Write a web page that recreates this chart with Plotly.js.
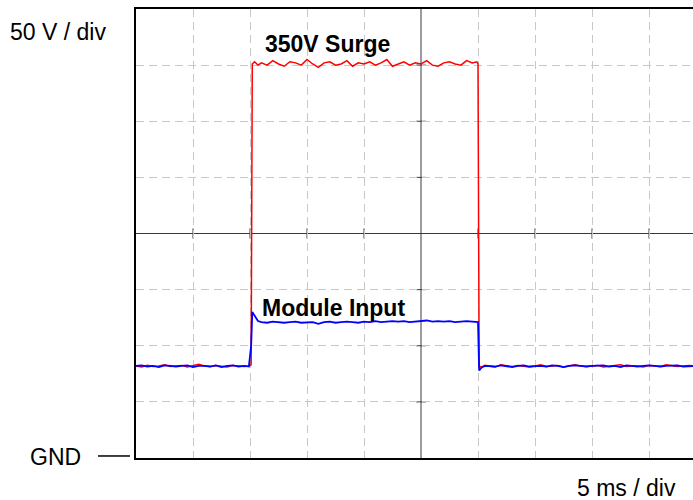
<!DOCTYPE html>
<html>
<head>
<meta charset="utf-8">
<script src="https://cdn.plot.ly/plotly-3.0.1.min.js"></script>
<style>
html,body{margin:0;padding:0;background:#fff;overflow:hidden;}
#chart{width:693px;height:500px;}
</style>
</head>
<body>
<div id="chart"></div>
<script>
// Time in ms
const timeMs = [0,0.5,1,1.5,2,2.5,3,3.5,4,4.5,5,5.5,6,6.5,7,7.5,8,8.5,9,9.5,
  9.9,10.1,10.2,10.4,10.7,
  11,11.5,12,12.5,13,13.5,14,14.5,15,15.5,16,16.5,17,17.5,18,18.5,19,19.5,20,20.5,21,21.5,22,22.5,23,23.5,24,24.5,25,25.5,26,26.5,27,27.5,28,28.5,29,29.5,
  29.9,30.0,
  30.1,30.3,30.6,
  31,31.5,32,32.5,33,33.5,34,34.5,35,35.5,36,36.5,37,37.5,38,38.5,39,39.5,40,40.5,41,41.5,42,42.5,43,43.5,44,44.5,45,45.5,46,46.5,47,47.5,48,48.5,49];

// 350V surge (V)
const surgeV = [82,81,82.5,81.5,82,83,81.5,82,82.5,81,82,83.5,82,81.5,82.5,82,81,82.5,82,81.5,
  82,83,351,353,350,
  352,350,354,351,349,353,352,350,355,351,348,352,353,350,351,354,349,352,351,353,350,352,355,349,351,353,350,352,351,354,350,349,352,353,351,350,354,352,
  353,351,
  82,81,82.5,
  82,81,83,82,81.5,82.5,82,81,82,83,81.5,82,82.5,81,82,83,82,81.5,82,82.5,81,82,82.5,83,81.5,82,82,81,82.5,82,81.5,83,82,81.5,82,82.5,82];

// Module input (V)
const moduleV = [82,82.5,81.5,82,81,82.5,82,81.5,82,82.5,81,82,82,81.5,82.5,81,82,82.5,81.5,82,
  81.5,100,130,127,122,
  121,120.5,121.5,121,120.5,121,121.5,120.5,121,121,119.5,121,121.5,120.5,121,121.5,121,120.5,121.5,121,122,121,121.5,122,121.5,122,121,121.5,122,122.5,121.5,122,121.5,122,121,121.5,122,121.5,
  121.5,121,
  78,80.5,82,
  82,81.5,82.5,82,81,82,82.5,81.5,82,82,81.5,82.5,82,81,82,82.5,82,81.5,82,82,82.5,81.5,82,81,82.5,82,81.5,82,82.5,82,81.5,82,82,82.5,81.5,82,82];

// Dashed graticule positions (centre lines are solid, drawn separately)
const xGrid = [5,10,15,20,30,35,40,45];
const yGrid = [50,100,150,250,300,350];
const xCentre = 25;
const yCentre = 200;

const FONT = "Liberation Sans, Arial, Helvetica, sans-serif";

const traces = [
  {x: timeMs, y: surgeV, type: 'scatter', mode: 'lines', line: {color: '#ff0000', width: 1.5}, name: '350V Surge'},
  {x: timeMs, y: moduleV, type: 'scatter', mode: 'lines', line: {color: '#0000ff', width: 1.8}, name: 'Module Input'}
];

const shapes = [
  {type: 'line', xref: 'x', yref: 'paper', x0: xCentre, x1: xCentre, y0: 0, y1: 1, line: {color: '#3a3a3a', width: 1}, layer: 'below'},
  {type: 'line', xref: 'paper', yref: 'y', x0: 0, x1: 1, y0: yCentre, y1: yCentre, line: {color: '#3a3a3a', width: 1}, layer: 'below'},
  {type: 'line', xref: 'paper', yref: 'paper', x0: -0.0682, x1: -0.0108, y0: 0.0045, y1: 0.0045, line: {color: '#000', width: 1.5}}
];
yGrid.forEach(v => shapes.push({type: 'line', xref: 'x', yref: 'y', x0: xCentre - 0.44, x1: xCentre + 0.44, y0: v, y1: v, line: {color: '#3a3a3a', width: 1}, layer: 'below'}));
xGrid.forEach(v => shapes.push({type: 'line', xref: 'x', yref: 'y', x0: v, x1: v, y0: yCentre - 4.5, y1: yCentre + 4.5, line: {color: '#3a3a3a', width: 1}, layer: 'below'}));

const layout = {
  width: 693, height: 500,
  margin: {l: 136, r: 0, t: 9, b: 42, pad: 0},
  paper_bgcolor: '#fff', plot_bgcolor: '#fff',
  showlegend: false,
  font: {family: FONT, color: '#000'},
  xaxis: {range: [0, 48.86], tickmode: 'array', tickvals: xGrid, showgrid: true, gridcolor: '#c8c8c8', griddash: '8px,5px', gridwidth: 1,
    zeroline: false, showticklabels: false, ticks: '', showline: true, linecolor: '#000', linewidth: 2, mirror: true, fixedrange: true},
  yaxis: {range: [0, 400], tickmode: 'array', tickvals: yGrid, showgrid: true, gridcolor: '#c8c8c8', griddash: '8px,5px', gridwidth: 1,
    zeroline: false, showticklabels: false, ticks: '', showline: true, linecolor: '#000', linewidth: 2, mirror: false, fixedrange: true},
  shapes: shapes,
  annotations: [
    {text: '50 V / div', xref: 'paper', yref: 'paper', x: -0.2298, y: 0.9488, xanchor: 'left', yanchor: 'middle', showarrow: false, font: {family: FONT, size: 23, color: '#000'}},
    {text: 'GND', xref: 'paper', yref: 'paper', x: -0.1939, y: 0.0033, xanchor: 'left', yanchor: 'middle', showarrow: false, font: {family: FONT, size: 23, color: '#000'}},
    {text: '5 ms / div', xref: 'paper', yref: 'paper', x: 0.7882, y: -0.0668, xanchor: 'left', yanchor: 'middle', showarrow: false, font: {family: FONT, size: 23, color: '#000'}},
    {text: '<b>350V Surge</b>', xref: 'x', yref: 'y', x: 11.14, y: 369, xanchor: 'left', yanchor: 'middle', showarrow: false, font: {family: FONT, size: 23, color: '#000'}},
    {text: '<b>Module Input</b>', xref: 'x', yref: 'y', x: 10.88, y: 133.7, xanchor: 'left', yanchor: 'middle', showarrow: false, font: {family: FONT, size: 23, color: '#000'}}
  ]
};

Plotly.newPlot('chart', traces, layout, {displayModeBar: false, staticPlot: true});
</script>
</body>
</html>
